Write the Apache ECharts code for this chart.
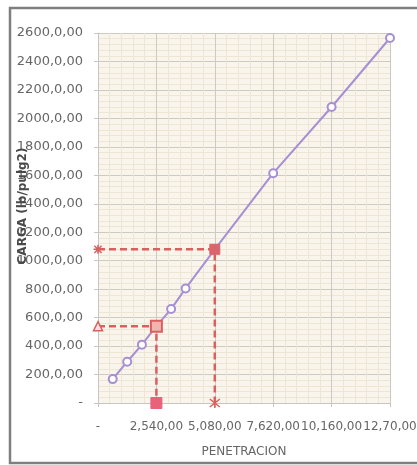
<!DOCTYPE html>
<html><head><meta charset="utf-8">
<script src="https://cdn.jsdelivr.net/npm/echarts@6/dist/echarts.min.js"></script>
<style>html,body{margin:0;padding:0;background:#fff;}#c{width:417px;height:465px;}</style>
</head><body><div id="c"></div>
<script>
const penetracion = [0.64, 1.27, 1.91, 2.54, 3.18, 3.81, 5.08, 7.62, 10.16, 12.70];
const carga = [168, 290, 410, 540, 660, 805, 1080, 1615, 2080, 2565];
const ref1 = [[0, 540], [2.54, 540], [2.54, 0]];
const ref2 = [[0, 1080], [5.08, 1080], [5.08, 0]];
const xTickValues = [0, 2.54, 5.08, 7.62, 10.16, 12.70];
const xTickLabels = ['-', '2,540,00', '5,080,00', '7,620,00', '10,160,00', '12,70,00'];
const yTickValues = [0, 200, 400, 600, 800, 1000, 1200, 1400, 1600, 1800, 2000, 2200, 2400, 2600];
const yTickLabels = ['-', '200,0,00', '400,0,00', '600,0,00', '800,0,00', '1000,0,00', '1200,0,00', '1400,0,00', '1600,0,00', '1800,0,00', '2000,0,00', '2200,0,00', '2400,0,00', '2600,0,00'];
const xTitle = 'PENETRACION';
const yTitle = 'CARGA (lb/pulg2)';

function lookup(vals, labels, v) {
  for (let i = 0; i < vals.length; i++) if (Math.abs(vals[i] - v) < 1e-6) return labels[i];
  return '';
}
const FONT = 'DejaVu Sans';
const RED = '#dc5f5f';
const PURPLE = '#a68fd2';

const chart = echarts.init(document.getElementById('c'), null, {renderer: 'canvas'});
chart.setOption({
  animation: false,
  backgroundColor: '#ffffff',
  grid: {left: 98, right: 27, top: 33, bottom: 62, show: true, backgroundColor: '#f9f5ec', borderWidth: 0,
         containLabel: false, outerBoundsMode: 'none'},
  xAxis: {
    type: 'value', min: 0, max: 12.70, interval: 2.54,
    name: xTitle, nameLocation: 'middle', nameGap: 43,
    nameTextStyle: {fontFamily: FONT, fontSize: 12, color: '#666666'},
    axisLine: {show: true, lineStyle: {color: '#c8c6c0', width: 1}},
    axisTick: {show: true, length: 4, lineStyle: {color: '#c8c6c0'}},
    axisLabel: {fontFamily: FONT, fontSize: 12, color: '#666666', margin: 18,
      showMaxLabel: true, showMinLabel: true, hideOverlap: false,
      formatter: v => lookup(xTickValues, xTickLabels, v)},
    splitLine: {show: true, lineStyle: {color: '#cdcac0', width: 1}},
    minorTick: {show: false, splitNumber: 5},
    minorSplitLine: {show: true, lineStyle: {color: '#eee6d4', width: 1}}
  },
  yAxis: {
    type: 'value', min: 0, max: 2600, interval: 200,
    axisLine: {show: true, lineStyle: {color: '#c8c6c0', width: 1}},
    axisTick: {show: true, length: 4, lineStyle: {color: '#c8c6c0'}},
    axisLabel: {fontFamily: FONT, fontSize: 13, color: '#666666', margin: 15,
      formatter: v => lookup(yTickValues, yTickLabels, v)},
    splitLine: {show: true, lineStyle: {color: '#cdcac0', width: 1}},
    minorTick: {show: false, splitNumber: 5},
    minorSplitLine: {show: true, lineStyle: {color: '#eee6d4', width: 1}}
  },
  graphic: [
    {type: 'rect', shape: {x: 10, y: 8, width: 420, height: 455}, style: {fill: 'none', stroke: '#7f7f7f', lineWidth: 2.5}, z: 100},
    {type: 'text', x: 23, y: 206, rotation: Math.PI / 2,
     style: {text: yTitle, fontFamily: FONT, fontSize: 12, fontWeight: 'bold', fill: '#4a4a4a', align: 'center', verticalAlign: 'middle'}, z: 100}
  ],
  series: [
    {type: 'line', data: penetracion.map((x, i) => [x, carga[i]]),
     symbol: 'circle', symbolSize: 8, showSymbol: true,
     lineStyle: {color: PURPLE, width: 2},
     itemStyle: {color: '#ffffff', borderColor: PURPLE, borderWidth: 2}, z: 2},
    {type: 'line', data: [
        {value: ref1[0], symbol: 'triangle', symbolSize: 9, itemStyle: {color: '#fbe3e3', borderColor: RED, borderWidth: 1.5}},
        {value: ref1[1], symbol: 'rect', symbolSize: 11, itemStyle: {color: '#f3b3ae', borderColor: RED, borderWidth: 2}},
        {value: ref1[2], symbol: 'rect', symbolSize: 11, itemStyle: {color: '#e8627a', borderColor: '#e8627a', borderWidth: 1}}
      ],
     lineStyle: {color: RED, width: 2.5, type: [7, 4]}, z: 3},
    {type: 'line', data: [
        {value: ref2[0], symbol: 'path://M0,5 L10,5 M5,0 L5,10 M1,1 L9,9 M9,1 L1,9', symbolSize: 9, itemStyle: {color: 'none', borderColor: RED, borderWidth: 1.5}},
        {value: ref2[1], symbol: 'rect', symbolSize: 10, itemStyle: {color: '#d9656e', borderColor: '#d9656e', borderWidth: 1}},
        {value: ref2[2], symbol: 'path://M1,1 L9,9 M9,1 L1,9 M5,0 L5,10', symbolSize: 10, itemStyle: {color: 'none', borderColor: RED, borderWidth: 1.5}}
      ],
     lineStyle: {color: RED, width: 2.5, type: [7, 4]}, z: 3}
  ]
});
</script></body></html>
